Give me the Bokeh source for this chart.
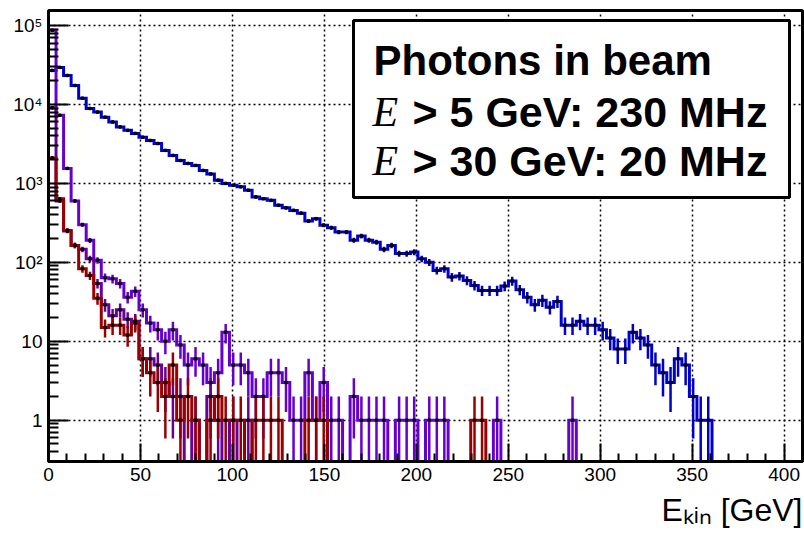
import numpy as np
from bokeh.plotting import figure
from bokeh.models import Range1d, FixedTicker, Label, BoxAnnotation, Title
from bokeh.embed import file_html
from bokeh.resources import INLINE

# ---------------- data ----------------
x_lo, x_hi, n_bins = 0.0, 410.0, 100
y_lo, y_hi = 0.3, 1.55e5

photons_all = [27000, 29500, 23300, 17400, 12000, 8900, 8000, 6900, 6000, 5200,
               4700, 4300, 3850, 3500, 3200, 2620, 2260, 1950, 1790, 1690,
               1460, 1320, 1100, 1000, 945, 905, 820, 675, 640, 610,
               528, 490, 455, 420, 333, 357, 295, 275, 242, 242,
               191, 215, 191, 180, 146, 164, 129, 129, 135, 111,
               100, 79, 83, 65, 67, 59, 51, 44, 44, 44,
               50, 58, 45, 36, 29, 33, 27, 32, 16, 16,
               18, 16, 16, 14, 11, 8, 8, 13, 11, 9,
               5, 4, 3, 6, 5, 2, 1, 1, 0, 0,
               0, 0, 0, 0, 0, 0, 0, 0, 0, 0]

violet_h = [87000, 7300, 1550, 600, 300, 190, 106, 64, 62, 54,
            36, 43, 25, 17, 14, 10, 14, 9, 5, 6,
            5, 3, 4, 13, 5, 5, 4, 2, 2, 4,
            4, 3, 1, 1, 4, 1, 3, 1, 1, 0,
            2, 1, 1, 1, 1, 0, 1, 1, 1, 0,
            1, 1, 1, 0, 0, 0, 0, 0, 0, 1,
            0, 0, 0, 0, 0, 0, 0, 0, 0, 1,
            0, 0, 0, 0, 0, 0, 0, 0, 0, 0,
            0, 0, 0, 0, 0, 0, 0, 0, 0, 0,
            0, 0, 0, 0, 0, 0, 0, 0, 0, 0]

purple_h = [9100, 600, 250, 164, 146, 111, 54, 29, 21, 25,
            19, 18, 6, 6, 5, 3, 2, 2, 0, 1,
            0, 2, 1, 0, 1, 0, 1, 0, 0, 0,
            0, 0, 0, 0, 0, 0, 0, 0, 0, 0,
            0, 0, 0, 0, 0, 0, 0, 0, 0, 0,
            0, 0, 0, 0, 0, 0, 0, 0, 0, 0,
            0, 0, 0, 0, 0, 0, 0, 0, 0, 0,
            0, 0, 0, 0, 0, 0, 0, 0, 0, 0,
            0, 0, 0, 0, 0, 0, 0, 0, 0, 0,
            0, 0, 0, 0, 0, 0, 0, 0, 0, 0]

red_h = [2100, 640, 254, 164, 83, 68, 35, 15, 16, 16,
         12, 17, 6, 4, 3, 2, 5, 1, 2, 1,
         0, 1, 2, 1, 1, 1, 0, 1, 1, 1,
         1, 0, 0, 0, 1, 1, 1, 0, 0, 0,
         0, 0, 0, 0, 0, 0, 0, 0, 0, 0,
         0, 0, 0, 0, 0, 0, 1, 1, 0, 0,
         0, 0, 0, 0, 0, 0, 0, 0, 0, 0,
         0, 0, 0, 0, 0, 0, 0, 0, 0, 0,
         0, 0, 0, 0, 0, 0, 0, 0, 0, 0,
         0, 0, 0, 0, 0, 0, 0, 0, 0, 0]

series = [(photons_all, "#0000cc"), (violet_h, "#6600cc"),
          (purple_h, "#660099"), (red_h, "#990000")]

x_ticks = [0, 50, 100, 150, 200, 250, 300, 350, 400]
y_ticks = [1, 10, 100, 1000, 10000, 100000]
y_tick_labels = ["1", "10", "10²", "10³", "10⁴", "10⁵"]

legend_title = "Photons in beam"
legend_rows = [("E", "> 5 GeV: 230 MHz"), ("E", "> 30 GeV: 20 MHz")]
x_title = "Eₖᵢₙ [GeV]"

# ---------------- figure ----------------
p = figure(width=804, height=535, y_axis_type="log",
           x_range=Range1d(x_lo, x_hi), y_range=Range1d(y_lo, y_hi),
           output_backend="svg", toolbar_location=None,
           min_border_left=48, min_border_right=2, min_border_top=10,
           min_border_bottom=74)
p.background_fill_color = "white"
p.border_fill_color = "white"
p.outline_line_color = "black"
p.outline_line_width = 3

minor_x = [v for v in range(0, 411, 10) if v % 50 != 0]
minor_y = []
for e in range(-1, 6):
    for m in range(2, 10):
        v = m * 10.0 ** e
        if y_lo <= v <= y_hi:
            minor_y.append(v)

p.xaxis.ticker = FixedTicker(ticks=x_ticks, minor_ticks=minor_x)
p.yaxis.ticker = FixedTicker(ticks=y_ticks, minor_ticks=minor_y)
p.yaxis.major_label_overrides = {t: l for t, l in zip(y_ticks, y_tick_labels)}

for ax in (p.xaxis, p.yaxis):
    ax.axis_line_width = 3
    ax.axis_line_color = "black"
    ax.major_tick_out = 0
    ax.minor_tick_out = 0
    ax.major_tick_line_width = 2
    ax.minor_tick_line_width = 2
    ax.major_label_text_font = "Liberation Sans"
    ax.major_label_text_font_size = "19px"
    ax.major_label_text_color = "black"
p.xaxis.major_tick_in = 18
p.xaxis.minor_tick_in = 8
p.yaxis.major_tick_in = 20
p.yaxis.minor_tick_in = 10
p.xaxis.major_label_standoff = 6
p.yaxis.major_label_standoff = 6

for g in (p.xgrid, p.ygrid):
    g.grid_line_color = "black"
    g.grid_line_dash = "2 3"
    g.grid_line_width = 1.5

edges = np.linspace(x_lo, x_hi, n_bins + 1)
centers = 0.5 * (edges[:-1] + edges[1:])

for vals, col in series:
    v = np.array(vals, dtype=float)
    vc = np.maximum(v, y_lo)
    xs = np.repeat(edges, 2)
    ys = np.concatenate([[y_lo], np.repeat(vc, 2), [y_lo]])
    p.line(xs, ys, line_color=col, line_width=3, line_join="miter")
    nz = v > 0
    lo = np.maximum(v[nz] - np.sqrt(v[nz]), y_lo)
    hi = v[nz] + np.sqrt(v[nz])
    p.segment(x0=centers[nz], y0=lo, x1=centers[nz], y1=hi,
              line_color=col, line_width=2.5)

for vals, col in series:
    v = np.array(vals, dtype=float)
    nz = v > 0
    p.scatter(centers[nz], v[nz], size=2.5, color="black", marker="square")

# ---------------- legend box ----------------
box = BoxAnnotation(left=305, right=741, bottom=264, top=441,
                    left_units="screen", right_units="screen",
                    bottom_units="screen", top_units="screen",
                    fill_color="white", fill_alpha=1.0,
                    line_color="black", line_alpha=1.0, line_width=3)
p.add_layout(box)

p.add_layout(Label(x=325, y=401, x_units="screen", y_units="screen",
                   text=legend_title, text_font="Liberation Sans",
                   text_font_style="bold", text_font_size="42px",
                   text_baseline="alphabetic", text_color="black"))
for (sym, rest), yb in zip(legend_rows, [350, 301]):
    p.add_layout(Label(x=324, y=yb, x_units="screen", y_units="screen",
                       text=sym, text_font="Liberation Serif",
                       text_font_style="italic", text_font_size="42px",
                       text_baseline="alphabetic", text_color="black"))
    p.add_layout(Label(x=364, y=yb, x_units="screen", y_units="screen",
                       text=rest, text_font="Liberation Sans",
                       text_font_style="bold", text_font_size="43px",
                       text_baseline="alphabetic", text_color="black"))

# ---------------- x axis title ----------------
p.add_layout(Title(text=x_title, align="right", text_font="Liberation Sans",
                   text_font_style="normal", text_font_size="32px",
                   text_color="black", standoff=12, offset=0,
                   text_line_height=0.9), "below")

open("out.html", "w").write(file_html(p, INLINE))
